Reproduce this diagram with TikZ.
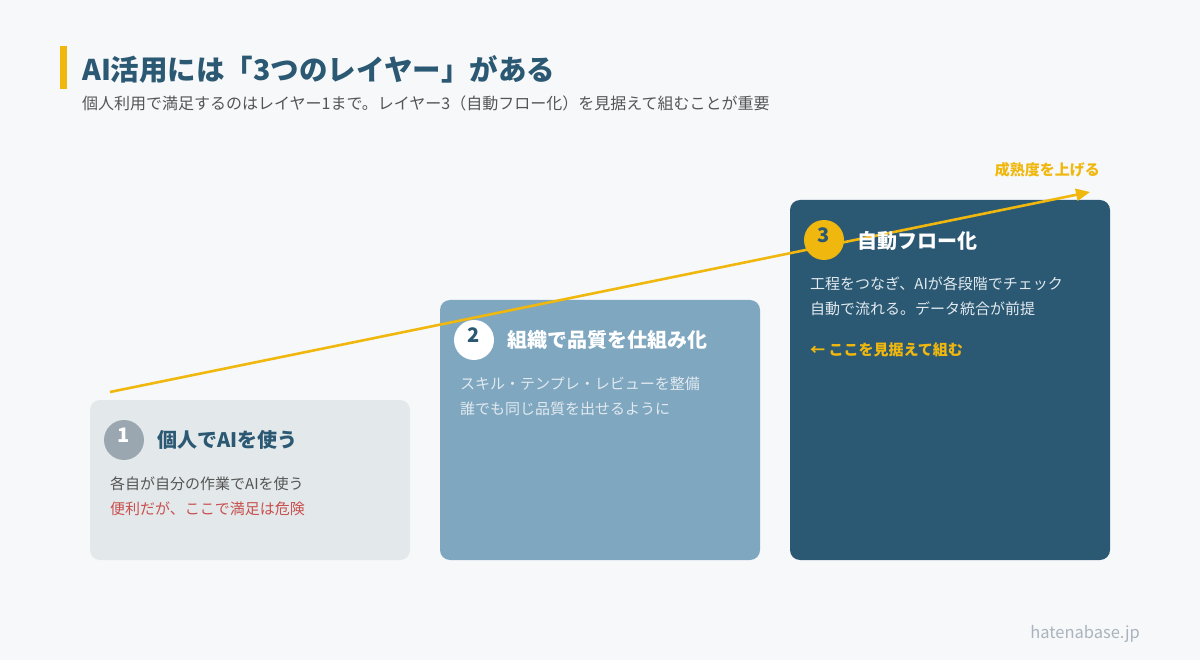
\documentclass[tikz,border=0pt]{standalone}
\usepackage{fontspec}
\setmainfont{Noto Sans CJK JP}
\usetikzlibrary{arrows.meta}
\definecolor{bg}{HTML}{F7F8FA}
\definecolor{navy}{HTML}{2B5872}
\definecolor{gold}{HTML}{F0B80E}
\definecolor{gtxt}{HTML}{555555}
\definecolor{redt}{HTML}{C8504F}
\definecolor{boxa}{HTML}{E3E8EA}
\definecolor{boxb}{HTML}{7FA7C0}
\definecolor{boxc}{HTML}{2B5872}
\definecolor{circa}{HTML}{9AA7B0}
\definecolor{lite}{HTML}{E2EAF0}
\definecolor{foot}{HTML}{AAB4BE}
\tikzset{
  card/.style={rounded corners=10pt, draw=none},
  num/.style={circle, minimum size=40pt, inner sep=0pt, font=\fontsize{20}{20}\selectfont\bfseries},
  ttl/.style={anchor=west, inner sep=0pt, font=\fontsize{20}{22}\selectfont\bfseries},
  body/.style={anchor=west, font=\fontsize{15}{17}\selectfont, inner sep=0pt},
}
\begin{document}
\begin{tikzpicture}[x=1pt,y=-1pt]
\useasboundingbox (0,0) rectangle (1200,660);
\fill[bg] (0,0) rectangle (1200,660);
\fill[gold] (60,46) rectangle (67,89);
\node[anchor=west, inner sep=0pt, text=navy, font=\fontsize{28.5}{30}\selectfont\bfseries] (title) at (82,69) {AI活用には「3つのレイヤー」がある};
\node[anchor=west, inner sep=0pt, text=gtxt, font=\fontsize{16}{18}\selectfont] (sub) at (82,103) {個人利用で満足するのはレイヤー1まで。レイヤー3（自動フロー化）を見据えて組むことが重要};
% cards
\fill[card, boxa] (90,400) rectangle (410,560);
\fill[card, boxb] (440,300) rectangle (760,560);
\fill[card, boxc] (790,200) rectangle (1110,560);
% arrow
\coordinate (as) at (110,392);
\coordinate (ae) at (1090,192);
\draw[gold, line width=2.6pt, -{Triangle[length=14pt,width=12pt]}] (as) -- (ae);
\node[anchor=east, inner sep=0pt, text=gold, font=\fontsize{15}{17}\selectfont\bfseries] (mat) at (1100,170) {成熟度を上げる};
% card 1
\node[num, fill=circa, text=white] (n1) at (124,440) {\raisebox{9pt}{1}};
\node[ttl, text=navy] (t1) at (157,440) {個人でAIを使う};
\node[body, text=gtxt] (b1a) at (110,484) {各自が自分の作業でAIを使う};
\node[body, text=redt] (b1b) at (110,509) {便利だが、ここで満足は危険};
% card 2
\node[num, fill=white, text=navy] (n2) at (474,340) {\raisebox{9pt}{2}};
\node[ttl, text=white] (t2) at (507,340) {組織で品質を仕組み化};
\node[body, text=lite] (b2a) at (460,384) {スキル・テンプレ・レビューを整備};
\node[body, text=lite] (b2b) at (460,409) {誰でも同じ品質を出せるように};
% card 3
\node[num, fill=gold, text=navy] (n3) at (824,240) {\raisebox{9pt}{3}};
\node[ttl, text=white] (t3) at (857,241) {自動フロー化};
\node[body, text=lite] (b3a) at (810,284) {工程をつなぎ、AIが各段階でチェック};
\node[body, text=lite] (b3b) at (810,309) {自動で流れる。データ統合が前提};
\node[body, text=gold, font=\fontsize{15}{17}\selectfont\bfseries] (b3c) at (810,350) {← ここを見据えて組む};
\node[anchor=east, inner sep=0pt, text=foot, font=\fontsize{16.5}{18}\selectfont] (ft) at (1140,634) {hatenabase.jp};
\end{tikzpicture}
\end{document}
